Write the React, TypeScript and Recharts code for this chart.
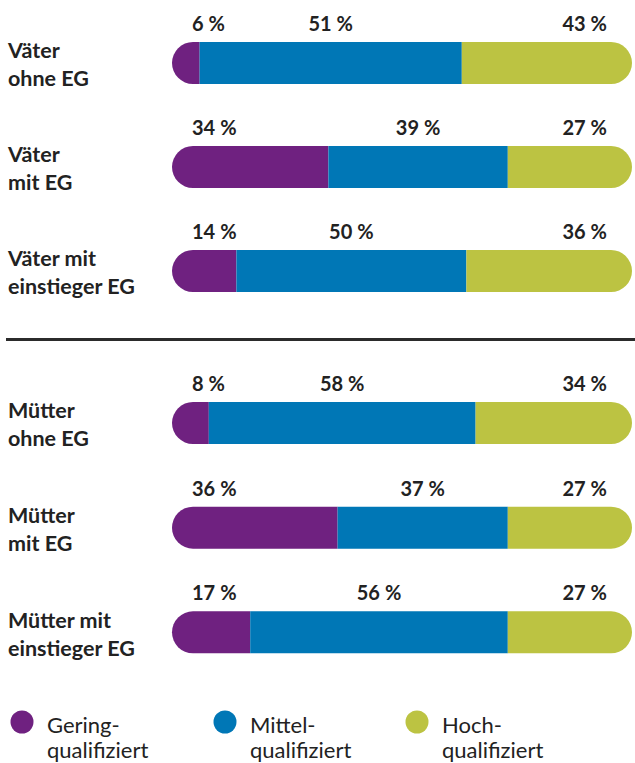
import { Bar, BarChart, LabelList, XAxis, YAxis } from "recharts";

// rows, top to bottom
const vaeterRows = ["Väter\nohne EG", "Väter\nmit EG", "Väter mit\neinstieger EG"];
const muetterRows = ["Mütter\nohne EG", "Mütter\nmit EG", "Mütter mit\neinstieger EG"];

// segment lengths as drawn in the picture (% of bar)
const vaeterGering = [6, 34, 14];
const vaeterMittel = [57, 39, 50];
const vaeterHoch = [37, 27, 36];
const muetterGering = [8, 36, 17];
const muetterMittel = [58, 37, 56];
const muetterHoch = [34, 27, 27];

// printed percentages
const vaeterGeringPct = [6, 34, 14];
const vaeterMittelPct = [51, 39, 50];
const vaeterHochPct = [43, 27, 36];
const muetterGeringPct = [8, 36, 17];
const muetterMittelPct = [58, 37, 56];
const muetterHochPct = [34, 27, 27];

const legendNames = [["Gering-", "qualifiziert"], ["Mittel-", "qualifiziert"], ["Hoch-", "qualifiziert"]];

const PURPLE = "#6f2180";
const BLUE = "#0077b6";
const GREEN = "#bcc342";
const TEXT = "#222222";
const FONT = "Lato, 'Noto Sans', sans-serif";
const colors = [PURPLE, BLUE, GREEN];

const pct = (v: number) => `${v}\u202f%`;

function build(rows: string[], g: number[], m: number[], h: number[], gp: number[], mp: number[], hp: number[]) {
  return rows.map((name, i) => ({
    name,
    gering: g[i],
    mittel: m[i],
    hoch: h[i],
    geringLabel: pct(gp[i]),
    mittelLabel: pct(mp[i]),
    hochLabel: pct(hp[i]),
  }));
}

const vaeterData = build(vaeterRows, vaeterGering, vaeterMittel, vaeterHoch, vaeterGeringPct, vaeterMittelPct, vaeterHochPct);
const muetterData = build(muetterRows, muetterGering, muetterMittel, muetterHoch, muetterGeringPct, muetterMittelPct, muetterHochPct);

const RowTick = (props: any) => {
  const { y, payload } = props;
  const lines = String(payload.value).split("\n");
  return (
    <text x={8} y={y - 5} fill={TEXT} fontFamily={FONT} fontWeight={700} fontSize={21.5} textAnchor="start">
      {lines.map((l, i) => (
        <tspan key={i} x={8} dy={i === 0 ? 0 : 28}>{l}</tspan>
      ))}
    </text>
  );
};

// left cap keeps the full half-circle even when the segment is short
const LeftCap = (p: any) => {
  const x = Number(p.x), y = Number(p.y), w = Number(p.width), h = Number(p.height);
  const r = h / 2;
  const d = `M${x + r},${y} L${x + w},${y} L${x + w},${y + h} L${x + r},${y + h} A${r},${r} 0 0 1 ${x + r},${y} Z`;
  return <path d={d} fill={p.fill} />;
};

const pctStyle = { fill: TEXT, fontFamily: FONT, fontWeight: 700, fontSize: 20 };

const makeLabel = (where: "start" | "middle" | "end") => (p: any) => {
  const x = Number(p.x), w = Number(p.width), y = Number(p.y);
  const tx = where === "start" ? x + 20 : where === "end" ? x + w - 25 : x + w / 2;
  return (
    <text x={tx} y={y - 11} textAnchor={where} {...pctStyle}>
      {p.value}
    </text>
  );
};

function Group({ data, top, height }: { data: any[]; top: number; height: number }) {
  return (
    <div style={{ position: "absolute", left: 0, top, width: 635, height }}>
      <BarChart
        width={635}
        height={height}
        data={data}
        layout="vertical"
        margin={{ top: 0, right: 3, left: 0, bottom: 0 }}
        barSize={42}
      >
        <XAxis type="number" domain={[0, 100]} hide />
        <YAxis type="category" dataKey="name" width={172} axisLine={false} tickLine={false} tick={<RowTick />} interval={0} />
        <Bar dataKey="gering" stackId="a" fill={PURPLE} shape={LeftCap} isAnimationActive={false}>
          <LabelList dataKey="geringLabel" content={makeLabel("start")} />
        </Bar>
        <Bar dataKey="mittel" stackId="a" fill={BLUE} isAnimationActive={false}>
          <LabelList dataKey="mittelLabel" content={makeLabel("middle")} />
        </Bar>
        <Bar dataKey="hoch" stackId="a" fill={GREEN} radius={[0, 21, 21, 0]} isAnimationActive={false}>
          <LabelList dataKey="hochLabel" content={makeLabel("end")} />
        </Bar>
      </BarChart>
    </div>
  );
}

const legendX = [22, 225, 417];

export default function App() {
  return (
    <div style={{ position: "absolute", left: 0, top: 0, width: 635, height: 763, background: "#fff", overflow: "hidden" }}>
      <Group data={vaeterData} top={11} height={312} />
      <div style={{ position: "absolute", left: 6, top: 338, width: 629, height: 2.6, background: "#2b2b2b" }} />
      <Group data={muetterData} top={371} height={314} />
      <svg width={635} height={70} style={{ position: "absolute", left: 0, top: 693 }}>
        {legendNames.map((lines, i) => (
          <g key={i}>
            <circle cx={legendX[i]} cy={29} r={11.5} fill={colors[i]} />
            <text x={legendX[i] + 25} y={39.5} fill={TEXT} fontFamily={FONT} fontSize={22}>
              <tspan x={legendX[i] + 25}>{lines[0]}</tspan>
              <tspan x={legendX[i] + 25} dy={25.5}>{lines[1]}</tspan>
            </text>
          </g>
        ))}
      </svg>
    </div>
  );
}
